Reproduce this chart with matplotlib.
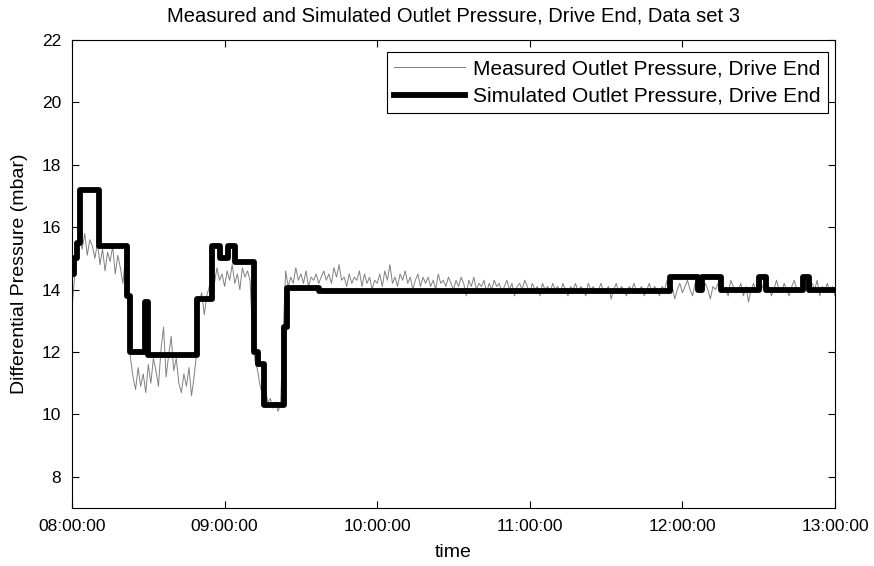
import matplotlib.pyplot as plt
import numpy as np

plt.rcParams["font.family"] = ["Liberation Sans", "DejaVu Sans"]

# measured pressure, one reading per minute from 08:00 (mbar)
meas = [
    13.4, 14.4, 15.2, 15.7, 15.3, 15.8, 15.1, 15.6, 15.4, 15.0,
    15.5, 14.8, 15.3, 14.6, 15.2, 14.9, 15.4, 14.5, 15.1, 14.7,
    14.2, 15.0, 13.6, 11.8, 11.2, 10.8, 11.5, 10.9, 11.3, 10.7,
    11.6, 11.0, 11.8, 11.4, 10.9, 12.1, 12.8, 11.2, 11.9, 12.5,
    11.4, 11.8, 11.0, 10.7, 11.3, 10.9, 11.5, 10.6, 11.2, 12.0,
    13.6, 13.9, 13.2, 13.8, 14.1, 14.6, 14.2, 14.7, 14.3, 14.5,
    14.1, 14.6, 14.3, 14.8, 14.2, 14.5, 14.0, 14.7, 14.4, 14.6,
    14.3, 12.6, 11.7, 11.4, 10.9, 10.6, 10.8, 10.4, 10.5, 10.2,
    10.4, 10.1, 10.3, 12.5, 14.6, 14.1, 14.4, 14.2, 14.7, 14.3,
    14.5, 14.2, 14.6, 14.1, 14.4, 14.3, 14.5, 14.2, 14.4, 14.6,
    14.3, 14.5, 14.2, 14.7, 14.4, 14.8, 14.3, 14.4, 14.1, 14.5,
    14.2, 14.4, 14.3, 14.6, 14.1, 14.5, 14.2, 14.4, 14.0, 14.3,
    14.2, 14.5, 14.1, 14.6, 14.3, 14.8, 14.2, 14.4, 14.1, 14.5,
    14.3, 14.6, 14.2, 14.4, 14.0, 14.3, 14.5, 14.1, 14.4, 14.2,
    14.4, 14.1, 14.3, 14.0, 14.5, 14.2, 14.3, 14.1, 14.4, 14.2,
    14.0, 14.3, 14.1, 14.4, 14.2, 13.8, 14.3, 14.1, 14.4, 14.0,
    14.2, 14.1, 14.3, 13.9, 14.2, 14.0, 14.3, 14.1, 14.2, 13.9,
    14.1, 14.3, 14.0, 14.2, 13.8, 14.1, 14.2, 14.0, 14.3, 14.1,
    13.9, 14.2, 14.0, 14.1, 13.8, 14.2, 14.0, 14.1, 13.9, 14.2,
    14.0, 14.1, 13.9, 14.2, 14.0, 13.8, 14.1, 14.0, 14.2, 13.9,
    14.1, 14.0, 13.8, 14.2, 14.0, 14.1, 13.9, 14.0, 14.2, 13.9,
    14.0, 14.1, 13.7, 14.0, 14.2, 13.9, 14.1, 14.0, 13.8, 14.1,
    14.0, 14.2, 13.9, 14.0, 14.1, 13.8, 14.0, 14.2, 13.9, 14.1,
    14.0, 13.8, 14.1, 14.0, 14.3, 13.9, 14.1, 13.7, 14.0, 14.2,
    13.9, 14.1, 14.3, 14.0, 13.8, 14.2, 14.0, 14.1, 13.9, 14.2,
    14.0, 13.7, 14.1, 14.0, 14.2, 13.9, 14.1, 14.0, 13.8, 14.3,
    14.1, 13.9, 14.0, 14.2, 13.8, 14.1, 13.6, 14.0, 14.2, 13.9,
    14.1, 14.0, 14.2, 13.9, 14.1, 13.8, 14.0, 14.3, 14.0, 13.9,
    14.2, 14.0, 13.8, 14.1, 14.3, 14.0, 13.9, 14.2, 14.0, 14.1,
    13.9, 14.2, 14.0, 14.3, 13.8, 14.1, 14.0, 14.2, 13.9, 14.1,
    13.8,
]

# simulated pressure, step changes (hour of day, mbar)
sim_t = [8.00, 8.01, 8.03, 8.05, 8.18, 8.36, 8.38, 8.48, 8.50, 8.82,
         8.92, 8.97, 9.02, 9.07, 9.19, 9.22, 9.26, 9.39, 9.41, 9.62,
         11.92, 12.10, 12.13, 12.25, 12.50, 12.55, 12.79, 12.83, 13.00]
sim_v = [14.5, 15.0, 15.5, 17.2, 15.4, 13.8, 12.0, 13.6, 11.9, 13.7,
         15.4, 15.0, 15.4, 14.9, 12.0, 11.6, 10.3, 12.8, 14.05, 13.95,
         14.4, 14.0, 14.4, 14.0, 14.4, 14.0, 14.4, 14.0, 14.0]

xtick_vals = [8, 9, 10, 11, 12, 13]
xtick_labels = ["08:00:00", "09:00:00", "10:00:00", "11:00:00", "12:00:00", "13:00:00"]
ytick_vals = [8, 10, 12, 14, 16, 18, 20, 22]

meas_t = 8 + np.arange(len(meas)) / 60.0

fig = plt.figure(figsize=(8.74, 5.66), dpi=100)
ax = fig.add_axes([72 / 874, 1 - 508 / 566, (835 - 72) / 874, (508 - 40) / 566])

ax.plot(meas_t, meas, color="#808080", lw=0.7, label="Measured Outlet Pressure, Drive End")
ax.step(sim_t, sim_v, where="post", color="black", lw=4.2,
        label="Simulated Outlet Pressure, Drive End")

ax.set_xlim(8, 13)
ax.set_ylim(7, 22)
ax.set_xticks(xtick_vals)
ax.set_xticklabels(xtick_labels)
ax.set_yticks(ytick_vals)
ax.tick_params(direction="in", top=True, right=True, labelsize=12.5, length=5, pad=8)

ax.set_xlabel("time", fontsize=14, labelpad=7)
ax.set_ylabel("Differential Pressure (mbar)", fontsize=14, labelpad=10)
ax.set_title("Measured and Simulated Outlet Pressure, Drive End, Data set 3",
             fontsize=14.5, pad=13)

leg = ax.legend(loc="upper right", bbox_to_anchor=(0.991, 0.974), borderaxespad=0,
                fontsize=15, handlelength=3.4, handletextpad=0.4, labelspacing=0.4,
                borderpad=0.35, fancybox=False, framealpha=1, edgecolor="black")
leg.get_frame().set_linewidth(0.8)

fig.savefig("out.png", dpi=100)
